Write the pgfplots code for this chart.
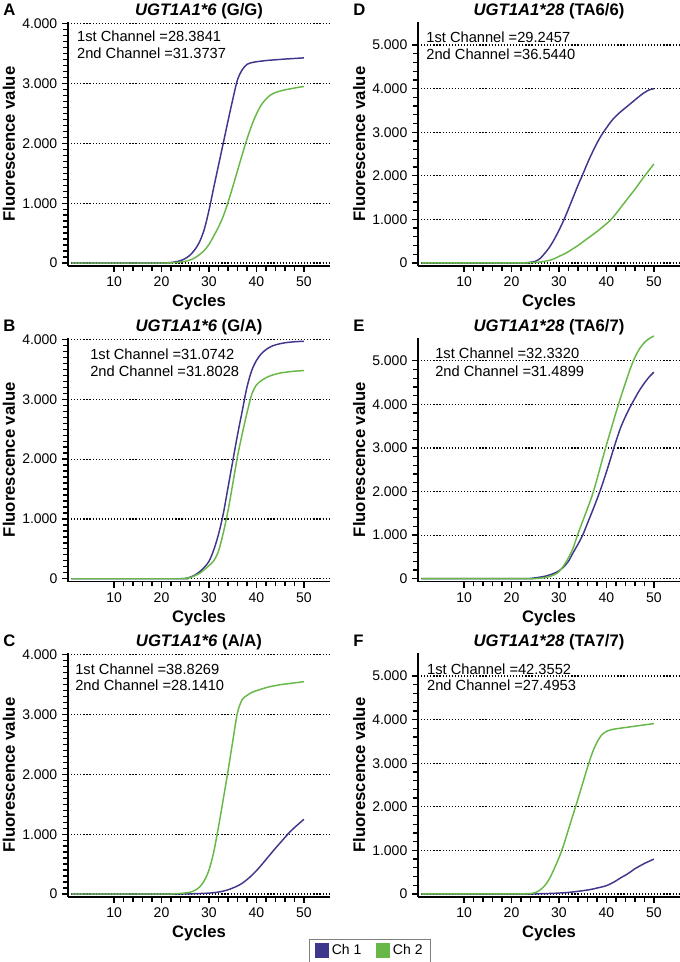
\documentclass[border=0pt]{standalone}
\usepackage{pgfplots}
\pgfplotsset{compat=1.18}
\usepackage{pgfplotstable}
\usepackage{fontspec}
\setmainfont{Liberation Sans}
\definecolor{chone}{RGB}{62,55,140}
\definecolor{chtwo}{RGB}{104,184,72}

% cycle, Ch 1, Ch 2
\pgfplotstableread{
cyc a b
1 0 0
20 0 0
21 3 1
22 8 3
23 20 7
24 40 15
25 75 28
26 130 50
27 220 85
28 350 140
29 560 210
30 880 310
31 1260 450
32 1630 600
33 2000 780
34 2370 1010
35 2730 1270
36 3060 1540
37 3230 1810
38 3320 2070
39 3350 2300
40 3365 2490
41 3375 2640
42 3385 2740
43 3392 2810
44 3398 2850
45 3404 2875
46 3410 2895
47 3415 2910
48 3420 2925
49 3425 2940
50 3430 2950
}\tabA
\pgfplotstableread{
cyc a b
1 0 0
24 0 0
25 5 5
26 25 20
27 60 50
28 115 90
29 190 150
30 290 220
31 480 300
32 740 460
33 1080 760
34 1520 1130
35 1960 1580
36 2400 2040
37 2800 2420
38 3200 2770
39 3480 3080
40 3650 3240
41 3760 3310
42 3830 3360
43 3880 3395
44 3910 3420
45 3930 3440
46 3945 3452
47 3955 3462
48 3962 3470
49 3967 3476
50 3970 3480
}\tabB
\pgfplotstableread{
cyc a b
1 0 0
21 0 0
22 0 2
23 0 5
24 1 10
25 2 18
26 3 30
27 5 60
28 8 115
29 11 220
30 15 400
31 22 700
32 32 1120
33 48 1580
34 70 2050
35 100 2550
36 135 3030
37 180 3250
38 240 3320
39 310 3370
40 390 3400
41 480 3425
42 575 3450
43 670 3470
44 765 3485
45 855 3500
46 945 3510
47 1035 3520
48 1110 3530
49 1180 3540
50 1250 3550
}\tabC
\pgfplotstableread{
cyc a b
1 0 0
22 0 0
23 5 3
24 15 5
25 35 10
26 100 20
27 220 38
28 360 60
29 540 95
30 750 150
31 980 200
32 1240 260
33 1510 330
34 1780 400
35 2030 480
36 2290 560
37 2530 640
38 2750 720
39 2940 810
40 3100 900
41 3250 1000
42 3370 1130
43 3470 1270
44 3560 1410
45 3650 1550
46 3740 1690
47 3830 1840
48 3910 1990
49 3970 2130
50 4000 2270
}\tabD
\pgfplotstableread{
cyc a b
1 0 0
23 0 0
24 5 0
25 20 3
26 35 10
27 55 25
28 85 50
29 125 90
30 180 160
31 270 300
32 400 480
33 600 710
34 790 1030
35 1000 1320
36 1270 1610
37 1540 1910
38 1820 2280
39 2120 2680
40 2450 3070
41 2800 3440
42 3150 3810
43 3470 4160
44 3720 4490
45 3940 4810
46 4140 5080
47 4330 5280
48 4490 5420
49 4630 5510
50 4740 5570
}\tabE
\pgfplotstableread{
cyc a b
1 0 0
22 0 2
23 1 5
24 2 10
25 3 30
26 5 90
27 8 190
28 11 350
29 15 580
30 20 830
31 27 1130
32 35 1480
33 47 1830
34 60 2180
35 75 2540
36 90 2900
37 110 3230
38 135 3480
39 160 3650
40 190 3730
41 240 3770
42 300 3790
43 370 3805
44 430 3820
45 500 3835
46 580 3850
47 640 3865
48 700 3880
49 750 3895
50 800 3910
}\tabF

\pgfplotsset{
  pcr/.style={
    scale only axis, width=196.5pt, height=183pt,
    xmin=0.3, xmax=55.5,
    axis x line*=bottom, axis y line*=left,
    axis line style={black, line width=1pt},
    xtick={10,20,...,50}, minor x tick num=4,
    tick align=outside, major tick length=4.5pt, minor tick length=3.5pt,
    tick style={black, line width=1pt},
    ymajorgrids, grid style={black, line width=0.9pt, dash pattern=on 0.9pt off 1.4pt},
    scaled y ticks=false,
    /pgf/number format/1000 sep={.},
    /pgf/number format/assume math mode=true,
    ticklabel style={font=\fontsize{10.5}{12}\selectfont},
    xlabel={Cycles}, ylabel={Fluorescence value},
    label style={font=\fontsize{12.5}{14}\selectfont\bfseries},
    xlabel style={at={(axis description cs:0.5,-0.168)}, anchor=base},
    ylabel style={at={(axis description cs:-0.2023,0.5)}, anchor=base},
    clip=false,
  },
  lft/.style={pcr, ymin=-50, ymax=4030, ytick={0,1000,...,4000}, minor y tick num=9},
  rgt/.style={pcr, ymin=-70, ymax=5530, ytick={0,1000,...,5000}, minor y tick num=4},
  c1/.style={color=chone, line width=1.1pt, smooth},
  c2/.style={color=chtwo, line width=1.1pt, smooth},
}

\newcommand{\panel}[2]{%
  \node[anchor=base west, inner sep=0pt,
    font=\fontsize{12.5}{14}\selectfont\bfseries] at ([xshift=-48.75pt, yshift=4.9pt]rel axis cs:0,1) {#1};
  \node[anchor=base, inner sep=0pt,
    font=\fontsize{12.5}{14}\selectfont\bfseries] at ([yshift=4.9pt]rel axis cs:0.5,1) {#2};}
\newcommand{\chan}[5]{%
  \node[anchor=west, inner sep=0pt, font=\fontsize{11}{13}\selectfont] at (rel axis cs:#1,#2) {1st Channel =#4};
  \node[anchor=west, inner sep=0pt, font=\fontsize{11}{13}\selectfont] at (rel axis cs:#1,#3) {2nd Channel =#5};}

\begin{document}
\begin{tikzpicture}
\path[use as bounding box] (0,0) rectangle (510pt,721.5pt);

\begin{axis}[lft, at={(51pt,522pt)}, anchor=south west]
  \addplot[c1] table[x=cyc, y=a] {\tabA};
  \addplot[c2] table[x=cyc, y=b] {\tabA};
  \panel{A}{\textit{UGT1A1*6} (G/G)}
  \chan{0.034}{0.943}{0.873}{28.3841}{31.3737}
\end{axis}

\begin{axis}[lft, at={(51pt,285.2pt)}, anchor=south west]
  \addplot[c1] table[x=cyc, y=a] {\tabB};
  \addplot[c2] table[x=cyc, y=b] {\tabB};
  \panel{B}{\textit{UGT1A1*6} (G/A)}
  \chan{0.084}{0.933}{0.863}{31.0742}{31.8028}
\end{axis}

\begin{axis}[lft, at={(51pt,48.75pt)}, anchor=south west]
  \addplot[c1] table[x=cyc, y=a] {\tabC};
  \addplot[c2] table[x=cyc, y=b] {\tabC};
  \panel{C}{\textit{UGT1A1*6} (A/A)}
  \chan{0.027}{0.934}{0.869}{38.8269}{28.1410}
\end{axis}

\begin{axis}[rgt, at={(313.5pt,522pt)}, anchor=south west]
  \addplot[c1] table[x=cyc, y=a] {\tabD};
  \addplot[c2] table[x=cyc, y=b] {\tabD};
  \panel{D}{\textit{UGT1A1*28} (TA6/6)}
  \chan{0.031}{0.939}{0.869}{29.2457}{36.5440}
\end{axis}

\begin{axis}[rgt, at={(313.5pt,285.2pt)}, anchor=south west]
  \addplot[c1] table[x=cyc, y=a] {\tabE};
  \addplot[c2] table[x=cyc, y=b] {\tabE};
  \panel{E}{\textit{UGT1A1*28} (TA6/7)}
  \chan{0.065}{0.936}{0.862}{32.3320}{31.4899}
\end{axis}

\begin{axis}[rgt, at={(313.5pt,48.75pt)}, anchor=south west,
  legend columns=2,
  legend style={at={(axis description cs:-0.183,-0.219)}, anchor=center,
    draw=black!50, line width=0.5pt, font=\fontsize{10.5}{12}\selectfont,
    inner xsep=4pt, inner ysep=2pt,
    /tikz/every even column/.append style={column sep=9pt}},
  legend image code/.code={\fill[#1] (0pt,-4.8pt) rectangle (9.6pt,4.8pt);}]
  \addplot[c1] table[x=cyc, y=a] {\tabF};
  \addlegendentry{Ch 1}
  \addplot[c2] table[x=cyc, y=b] {\tabF};
  \addlegendentry{Ch 2}
  \panel{F}{\textit{UGT1A1*28} (TA7/7)}
  \chan{0.034}{0.934}{0.869}{42.3552}{27.4953}
\end{axis}
\end{tikzpicture}
\end{document}
